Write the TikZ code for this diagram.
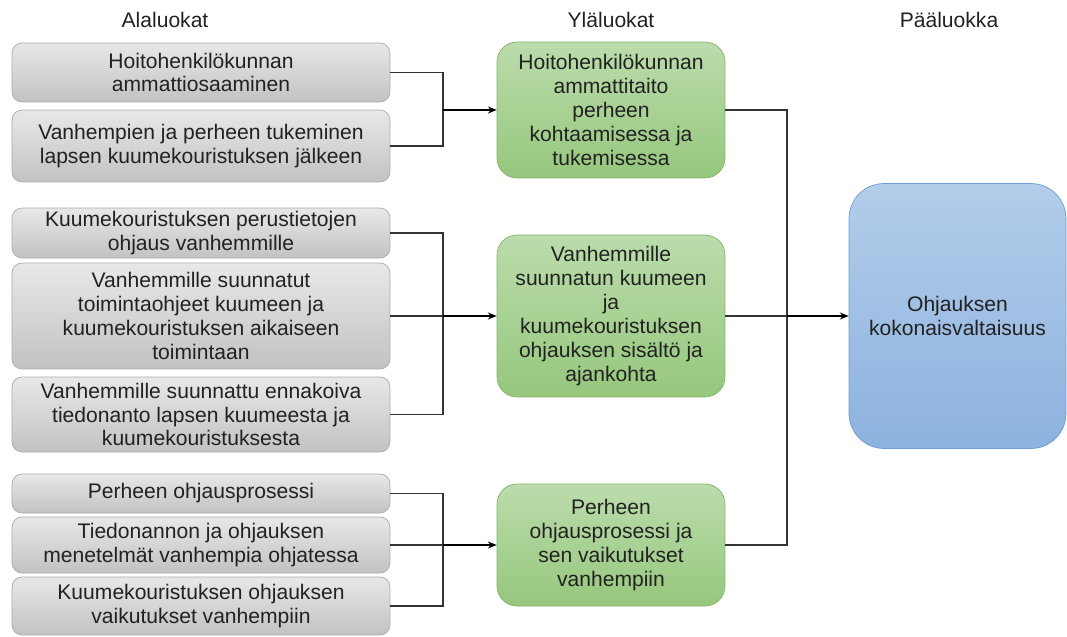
\documentclass[tikz,border=0pt]{standalone}
\usepackage{fontspec}
\setmainfont{Liberation Sans}
\usepackage{tikz}
\usetikzlibrary{arrows.meta}
\usepackage{xcolor}
\definecolor{subtop}{HTML}{E8E8E8}
\definecolor{subbot}{HTML}{C2C2C2}
\definecolor{subline}{HTML}{ABABAB}
\definecolor{uptop}{HTML}{BBDCAC}
\definecolor{upbot}{HTML}{96C77D}
\definecolor{upline}{HTML}{82B366}
\definecolor{maintop}{HTML}{B3CDEA}
\definecolor{mainbot}{HTML}{8DB2DF}
\definecolor{mainline}{HTML}{6C9CD4}
\definecolor{txt}{HTML}{222222}
\definecolor{wire}{HTML}{333333}

\begin{document}
\begin{tikzpicture}[x=0.02cm, y=-0.02cm, >={Stealth[length=5pt,width=4pt]},
    every node/.style={text=txt, font=\fontsize{12}{13.6}\selectfont, align=center},
    subbox/.style={draw=subline, top color=subtop, bottom color=subbot, rounded corners=0.2cm,
        minimum width=7.56cm, inner sep=0pt},
    upbox/.style={draw=upline, top color=uptop, bottom color=upbot, rounded corners=0.4cm,
        minimum width=4.56cm, inner sep=0pt},
    mainbox/.style={draw=mainline, top color=maintop, bottom color=mainbot, rounded corners=0.7cm,
        minimum width=4.34cm, minimum height=5.3cm, inner sep=0pt},
    conn/.style={draw=wire, line width=0.6pt},
    arrow/.style={draw=black, line width=1pt, ->}]
    \useasboundingbox (0,0) rectangle (1067,636);

    % Column headings
    \node (h1) at (165,20) {Alaluokat};
    \node (h2) at (611,20) {Yläluokat};
    \node (h3) at (949,20) {Pääluokka};

    % Alaluokat
    \node[subbox, minimum height=1.18cm] (g1) at (201,72.5) {Hoitohenkilökunnan\\ammattiosaaminen};
    \node[subbox, minimum height=1.44cm] (g2) at (201,146) {Vanhempien ja perheen tukeminen\\lapsen kuumekouristuksen jälkeen};
    \node[subbox, minimum height=1.0cm] (g3) at (201,233) {Kuumekouristuksen perustietojen\\ohjaus vanhemmille};
    \node[subbox, minimum height=2.12cm] (g4) at (201,316) {Vanhemmille suunnatut\\toimintaohjeet kuumeen ja\\kuumekouristuksen aikaiseen\\toimintaan};
    \node[subbox, minimum height=1.5cm] (g5) at (201,414.5) {Vanhemmille suunnattu ennakoiva\\tiedonanto lapsen kuumeesta ja\\kuumekouristuksesta};
    \node[subbox, minimum height=0.78cm] (g6) at (201,493.5) {Perheen ohjausprosessi};
    \node[subbox, minimum height=1.12cm] (g7) at (201,545) {Tiedonannon ja ohjauksen\\menetelmät vanhempia ohjatessa};
    \node[subbox, minimum height=1.16cm] (g8) at (201,606) {Kuumekouristuksen ohjauksen\\vaikutukset vanhempiin};

    % Yläluokat
    \node[upbox, minimum height=2.72cm] (y1) at (611,110) {Hoitohenkilökunnan\\ammattitaito\\perheen\\kohtaamisessa ja\\tukemisessa};
    \node[upbox, minimum height=3.24cm] (y2) at (611,316) {Vanhemmille\\suunnatun kuumeen\\ja\\kuumekouristuksen\\ohjauksen sisältö ja\\ajankohta};
    \node[upbox, minimum height=2.44cm] (y3) at (611,545) {Perheen\\ohjausprosessi ja\\sen vaikutukset\\vanhempiin};

    % Pääluokka
    \node[mainbox] (m) at (957.5,316) {Ohjauksen\\kokonaisvaltaisuus};

    % Junctions
    \coordinate (j1) at (443,110);
    \coordinate (j2) at (443,316);
    \coordinate (j3) at (443,545);
    \coordinate (j4) at (787,316);

    % Alaluokat -> Yläluokat
    \draw[conn] (g1.east) -| (j1) |- (g2.east);
    \draw[arrow] (j1) -- (y1.west);
    \draw[conn] (g3.east) -| (j2) |- (g5.east);
    \draw[conn] (g4.east) -- (j2);
    \draw[arrow] (j2) -- (y2.west);
    \draw[conn] (g6.east) -| (j3) |- (g8.east);
    \draw[conn] (g7.east) -- (j3);
    \draw[arrow] (j3) -- (y3.west);

    % Yläluokat -> Pääluokka
    \draw[conn] (y1.east) -| (j4) |- (y3.east);
    \draw[conn] (y2.east) -- (j4);
    \draw[arrow] (j4) -- (m.west);
\end{tikzpicture}
\end{document}
